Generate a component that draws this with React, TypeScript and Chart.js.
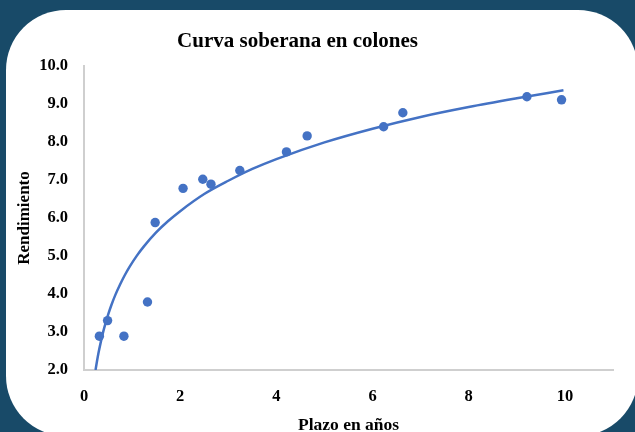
import React, { useEffect, useRef } from "react";
import { Chart, registerables } from "chart.js";

Chart.register(...registerables);

// Scatter observations (years to maturity, yield)
const plazo = [0.32, 0.49, 0.83, 1.32, 1.48, 2.06, 2.47, 2.64, 3.24, 4.21, 4.64, 6.23, 6.63, 9.21, 9.93];
const rendimiento = [2.89, 3.3, 2.89, 3.79, 5.88, 6.78, 7.02, 6.89, 7.25, 7.74, 8.16, 8.4, 8.77, 9.19, 9.11];

// Trend curve
const trendX = [0.24, 0.27, 0.3, 0.35, 0.4, 0.45, 0.5, 0.57, 0.65, 0.75, 0.85, 0.95, 1.1, 1.25, 1.5, 1.75, 2, 2.5, 3, 3.5, 4, 5, 6, 7, 8, 9, 9.97];
const trendY = [2.0, 2.23, 2.44, 2.74, 3.01, 3.24, 3.45, 3.71, 3.97, 4.25, 4.5, 4.72, 5.01, 5.26, 5.62, 5.92, 6.18, 6.63, 6.98, 7.29, 7.55, 7.99, 8.35, 8.66, 8.92, 9.15, 9.36];

const title = "Curva soberana en colones";
const xTitle = "Plazo en años";
const yTitle = "Rendimiento";
const xTicks = [0, 2, 4, 6, 8, 10];

const BLUE = "#4472c4";
const FONT = "'Liberation Serif', 'Times New Roman', serif";

const titlePlugin = {
  id: "chartTitleText",
  afterDraw(chart: any) {
    const ctx = chart.ctx;
    ctx.save();
    ctx.font = `bold 21px ${FONT}`;
    ctx.fillStyle = "#000";
    ctx.textAlign = "center";
    ctx.textBaseline = "middle";
    ctx.fillText(title, chart.width / 2 - 20, 42);
    ctx.restore();
  },
};

export default function App() {
  const ref = useRef<HTMLCanvasElement | null>(null);

  useEffect(() => {
    document.body.style.margin = "0";
    const canvas = ref.current;
    if (!canvas) return;
    const chart = new Chart(canvas, {
      type: "scatter",
      data: {
        datasets: [
          {
            label: "Rendimiento",
            data: plazo.map((x, i) => ({ x, y: rendimiento[i] })),
            backgroundColor: BLUE,
            borderColor: BLUE,
            pointRadius: 4.7,
            pointBorderWidth: 0,
            showLine: false,
            order: 1,
          },
          {
            type: "line",
            label: "Tendencia",
            data: trendX.map((x, i) => ({ x, y: trendY[i] })),
            borderColor: BLUE,
            borderWidth: 2.5,
            pointRadius: 0,
            showLine: true,
            fill: false,
            cubicInterpolationMode: "monotone",
            order: 0,
          } as any,
        ],
      },
      options: {
        responsive: false,
        animation: false,
        layout: { padding: { left: 0, right: 22, top: 66, bottom: 0 } },
        plugins: {
          legend: { display: false },
          tooltip: { enabled: false },
          title: { display: false },
        },
        scales: {
          x: {
            type: "linear",
            min: 0,
            max: 11,
            grid: { display: false, drawTicks: false },
            border: { display: true, color: "#cfcfcf", width: 2 },
            ticks: {
              stepSize: 2,
              color: "#000",
              padding: 16.6,
              font: { family: FONT, size: 16.5, weight: "bold", lineHeight: 1.2 },
            },
            afterBuildTicks: (scale: any) => {
              scale.ticks = xTicks.map((v) => ({ value: v }));
            },
            title: {
              display: true,
              text: xTitle,
              color: "#000",
              font: { family: FONT, size: 17.5, weight: "bold", lineHeight: 1.2 },
              padding: { top: 0, bottom: -4 },
            },
            afterFit: (scale: any) => {
              scale.height = 62;
            },
          },
          y: {
            type: "linear",
            min: 2,
            max: 10,
            grid: { display: false, drawTicks: false },
            border: { display: true, color: "#cfcfcf", width: 2 },
            ticks: {
              stepSize: 1,
              color: "#000",
              padding: 16,
              font: { family: FONT, size: 16.5, weight: "bold", lineHeight: 1.2 },
              callback: (v: any) => Number(v).toFixed(1),
            },
            title: {
              display: true,
              text: yTitle,
              color: "#000",
              font: { family: FONT, size: 17, weight: "bold", lineHeight: 1.2 },
              padding: { top: 14.5, bottom: 0 },
            },
            afterFit: (scale: any) => {
              scale.width = 84;
            },
          },
        },
      },
      plugins: [titlePlugin],
    });
    return () => chart.destroy();
  }, []);

  return (
    <div
      style={{
        position: "fixed",
        left: 0,
        top: 0,
        width: 635,
        height: 432,
        background: "#184a68",
        overflow: "hidden",
      }}
    >
      <div
        style={{
          position: "absolute",
          left: 6,
          top: 10,
          width: 632,
          height: 426,
          background: "#ffffff",
          borderRadius: 60,
        }}
      />
      <canvas
        ref={ref}
        width={635}
        height={432}
        style={{ position: "absolute", left: 0, top: 0, width: 635, height: 432 }}
      />
    </div>
  );
}
